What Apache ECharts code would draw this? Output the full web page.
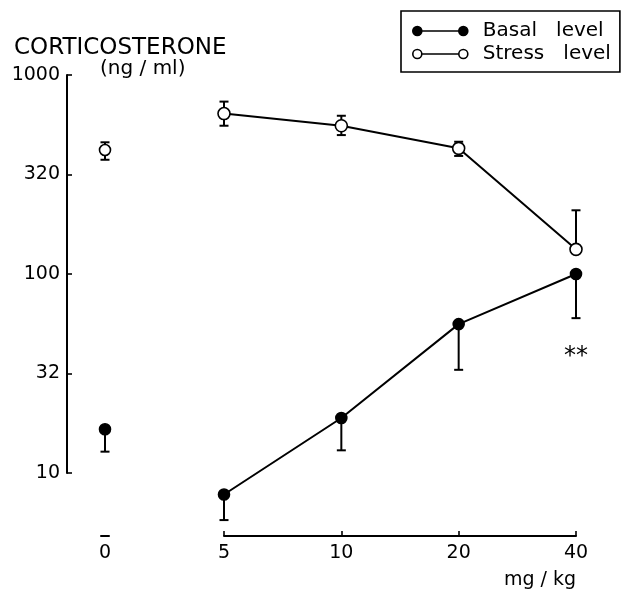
<!DOCTYPE html>
<html>
<head>
<meta charset="utf-8">
<script src="https://cdn.jsdelivr.net/npm/echarts@6/dist/echarts.min.js"></script>
<style>
  html, body { margin: 0; padding: 0; background: #fff; }
  #chart { width: 622px; height: 591px; }
</style>
</head>
<body>
<div id="chart"></div>
<script>
// doses (mg/kg); the first one is the control column, drawn on its own broken piece of axis
const doseLabels = ["0", "5", "10", "20", "40"];
const yTickLabels = ["10", "32", "100", "320", "1000"];

// corticosterone (ng/ml)
const basal = [16.6, 7.8, 18.9, 56, 100];
const basalLow = [12.8, 5.8, 13.0, 33, 60];
const stress = [420, 640, 556, 428, 133];
const stressHigh = [459, 735, 624, 462, 209];
const stressLow = [375, 556, 499, 392, null];

const FONT = "'DejaVu Sans', sans-serif";
const INK = "#000";

// legend icon: a segment with a circle at each end
const legendIcon =
  "path://M0,4.5a4.5,4.5 0 1,0 9,0a4.5,4.5 0 1,0 -9,0ZM9,4.5L46,4.5M46,4.5a4.5,4.5 0 1,0 9,0a4.5,4.5 0 1,0 -9,0Z";

const chart = echarts.init(document.getElementById("chart"));

function errRows(from, to) {
  const rows = [];
  for (let i = from; i < to; i++) {
    const j = i - from;
    rows.push([j, basalLow[i], basal[i], 1, 0]);
    rows.push([
      j,
      stressLow[i] == null ? stress[i] : stressLow[i],
      stressHigh[i],
      stressLow[i] == null ? 0 : 1,
      1,
    ]);
  }
  return rows;
}

function renderErr(params, api) {
  const x = api.value(0);
  const lo = api.coord([x, api.value(1)]);
  const hi = api.coord([x, api.value(2)]);
  const w = 4.5;
  const st = { stroke: INK, lineWidth: 2 };
  const kids = [
    { type: "line", shape: { x1: lo[0], y1: lo[1], x2: hi[0], y2: hi[1] }, style: st },
  ];
  if (api.value(3)) {
    kids.push({ type: "line", shape: { x1: lo[0] - w, y1: lo[1], x2: lo[0] + w, y2: lo[1] }, style: st });
  }
  if (api.value(4)) {
    kids.push({ type: "line", shape: { x1: hi[0] - w, y1: hi[1], x2: hi[0] + w, y2: hi[1] }, style: st });
  }
  return { type: "group", children: kids };
}

const yCommon = {
  type: "log",
  logBase: Math.sqrt(10),
  min: 10,
  max: 1000,
  splitLine: { show: false },
};

const xCommon = {
  offset: 63,
  axisLine: { lineStyle: { color: INK, width: 2 } },
  axisTick: { inside: true, length: 5, lineStyle: { color: INK, width: 1.6 } },
  axisLabel: { color: INK, fontSize: 19, fontFamily: FONT, margin: 8 },
  splitLine: { show: false },
};

const basalSymbol = { color: INK, borderColor: INK, borderWidth: 1.6, opacity: 1 };
const stressSymbol = { color: "#fff", borderColor: INK, borderWidth: 1.6, opacity: 1 };

const option = {
  animation: false,
  backgroundColor: "#fff",
  textStyle: { fontFamily: FONT },
  grid: [
    { left: 101, right: 513, top: 75, bottom: 118 },
    { left: 224, right: 46, top: 75, bottom: 118 },
  ],
  xAxis: [
    Object.assign({}, xCommon, {
      gridIndex: 0,
      type: "category",
      data: doseLabels.slice(0, 1),
      axisTick: Object.assign({}, xCommon.axisTick, { alignWithLabel: true }),
    }),
    Object.assign({}, xCommon, {
      gridIndex: 1,
      type: "category",
      boundaryGap: false,
      data: doseLabels.slice(1),
      name: "mg / kg",
      nameLocation: "end",
      nameGap: 0,
      nameTextStyle: {
        color: INK,
        fontSize: 19,
        fontFamily: FONT,
        align: "right",
        verticalAlign: "top",
        padding: [35, 0, 0, 0],
      },
    }),
  ],
  yAxis: [
    Object.assign({}, yCommon, {
      gridIndex: 0,
      offset: 34,
      axisLine: { show: true, lineStyle: { color: INK, width: 2 } },
      axisTick: { show: true, inside: true, length: 5, lineStyle: { color: INK, width: 1.6 } },
      axisLabel: {
        color: INK,
        fontSize: 19,
        fontFamily: FONT,
        margin: 7,
        formatter: (v, i) => yTickLabels[i],
      },
    }),
    Object.assign({}, yCommon, { gridIndex: 1, show: false }),
  ],
  legend: {
    left: 401,
    top: 11,
    orient: "vertical",
    selectedMode: false,
    borderColor: INK,
    borderWidth: 1.6,
    padding: [10, 9, 8, 11],
    itemGap: 3,
    itemWidth: 55,
    itemHeight: 9,
    formatter: (name) => name.replace(" ", "   "),
    textStyle: { color: INK, fontSize: 20, fontFamily: FONT, padding: [0, 0, 0, 10] },
    data: [
      { name: "Basal level", icon: legendIcon, itemStyle: basalSymbol },
      { name: "Stress level", icon: legendIcon, itemStyle: stressSymbol },
    ],
  },
  graphic: [
    {
      type: "text",
      x: 14,
      y: 48,
      style: { text: "CORTICOSTERONE", fontSize: 23, fontFamily: FONT, fill: INK, verticalAlign: "middle" },
    },
    {
      type: "text",
      x: 100,
      y: 69,
      style: { text: "(ng / ml)", fontSize: 20, fontFamily: FONT, fill: INK, verticalAlign: "middle" },
    },
  ],
  series: [
    {
      type: "custom",
      xAxisIndex: 0,
      yAxisIndex: 0,
      clip: false,
      silent: true,
      z: 1,
      renderItem: renderErr,
      encode: { x: 0, y: [1, 2] },
      data: errRows(0, 1),
    },
    {
      type: "custom",
      xAxisIndex: 1,
      yAxisIndex: 1,
      clip: false,
      silent: true,
      z: 1,
      renderItem: renderErr,
      encode: { x: 0, y: [1, 2] },
      data: errRows(1, doseLabels.length),
    },
    {
      name: "Basal level",
      type: "scatter",
      xAxisIndex: 0,
      yAxisIndex: 0,
      clip: false,
      silent: true,
      z: 3,
      symbol: "circle",
      symbolSize: 11,
      itemStyle: basalSymbol,
      data: basal.slice(0, 1),
    },
    {
      name: "Stress level",
      type: "scatter",
      xAxisIndex: 0,
      yAxisIndex: 0,
      clip: false,
      silent: true,
      z: 3,
      symbol: "circle",
      symbolSize: 11,
      itemStyle: stressSymbol,
      data: stress.slice(0, 1),
    },
    {
      name: "Basal level",
      type: "line",
      xAxisIndex: 1,
      yAxisIndex: 1,
      clip: false,
      silent: true,
      z: 3,
      symbol: "circle",
      symbolSize: 11,
      showAllSymbol: true,
      itemStyle: basalSymbol,
      lineStyle: { color: INK, width: 2 },
      data: basal.slice(1),
      markPoint: {
        silent: true,
        symbol: "circle",
        symbolSize: 0,
        label: {
          show: true,
          formatter: "**",
          color: INK,
          fontSize: 24,
          fontFamily: FONT,
          offset: [0, 6],
        },
        data: [{ coord: [3, 41] }],
      },
    },
    {
      name: "Stress level",
      type: "line",
      xAxisIndex: 1,
      yAxisIndex: 1,
      clip: false,
      silent: true,
      z: 3,
      symbol: "circle",
      symbolSize: 12,
      showAllSymbol: true,
      itemStyle: stressSymbol,
      lineStyle: { color: INK, width: 2 },
      data: stress.slice(1),
    },
  ],
};

chart.setOption(option);
</script>
</body>
</html>
